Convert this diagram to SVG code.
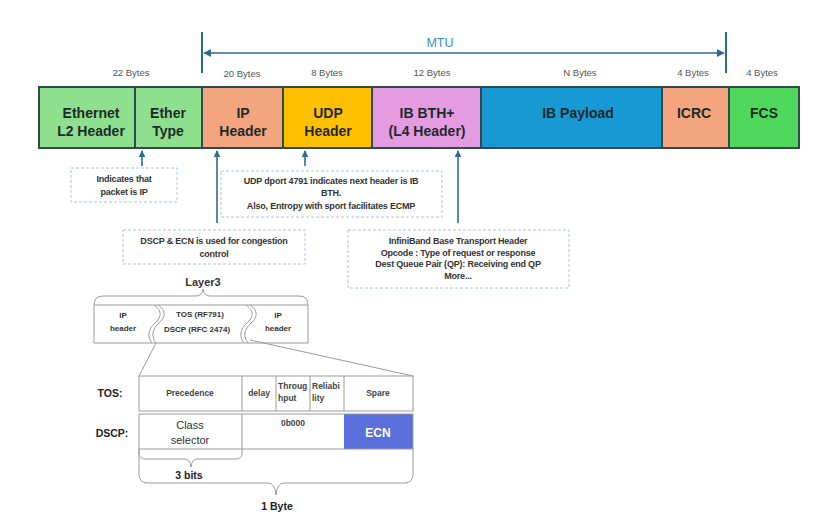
<svg xmlns="http://www.w3.org/2000/svg" width="830" height="527" viewBox="0 0 830 527">
<defs>
<marker id="ah" viewBox="0 0 10 10" refX="9" refY="5" markerWidth="7" markerHeight="7" markerUnits="userSpaceOnUse" orient="auto-start-reverse">
<path d="M0,0 L10,5 L0,10 z" fill="#2c6d8f"/>
</marker>
<marker id="ahm" viewBox="0 0 10 10" refX="9" refY="5" markerWidth="8" markerHeight="8" markerUnits="userSpaceOnUse" orient="auto-start-reverse">
<path d="M0,0 L10,5 L0,10 z" fill="#2c6d8f"/>
</marker>
</defs>
<style>
text{font-family:"Liberation Sans",Arial,sans-serif;}
.seg{stroke:#2f4a4a;stroke-width:2;}
.lbl{font-size:14px;font-weight:bold;fill:#1e2a2a;text-anchor:middle;}
.bytes{font-size:9.5px;fill:#555;text-anchor:middle;}
.note{fill:#fff;stroke:#a8c6e6;stroke-width:1;stroke-dasharray:3 2;}
.nt{font-size:9px;font-weight:bold;fill:#333;text-anchor:middle;letter-spacing:-0.2px;}
.conn{stroke:#2c6d8f;stroke-width:1.6;fill:none;}
.thin{stroke:#9a9a9a;stroke-width:1;fill:none;}
.cal{font-size:8px;font-weight:bold;fill:#333;text-anchor:middle;}
.tb{font-size:8.5px;font-weight:bold;fill:#444;text-anchor:middle;}
.tl{font-size:8.5px;font-weight:bold;fill:#444;}
.big{font-size:10.5px;font-weight:bold;fill:#222;text-anchor:middle;}
</style>
<rect width="830" height="527" fill="#ffffff"/>

<!-- MTU -->
<g id="mtu">
<line x1="202" y1="32" x2="202" y2="73" stroke="#2c6d8f" stroke-width="2"/>
<line x1="726" y1="32" x2="726" y2="73" stroke="#2c6d8f" stroke-width="2"/>
<line x1="204" y1="53" x2="724" y2="53" class="conn" marker-start="url(#ahm)" marker-end="url(#ahm)"/>
<text x="440" y="47" font-size="12.5" fill="#3b8cc4" text-anchor="middle">MTU</text>
</g>

<!-- byte labels -->
<g id="bytes">
<text class="bytes" x="131" y="76">22 Bytes</text>
<text class="bytes" x="242" y="77">20 Bytes</text>
<text class="bytes" x="327" y="76">8 Bytes</text>
<text class="bytes" x="432" y="76">12 Bytes</text>
<text class="bytes" x="580" y="76">N Bytes</text>
<text class="bytes" x="693" y="76">4 Bytes</text>
<text class="bytes" x="762" y="76">4 Bytes</text>
</g>

<!-- frame -->
<g id="ethernet"><rect class="seg" x="39" y="87" width="96" height="61" fill="#8ee08e"/><text class="lbl" x="91" y="118">Ethernet</text><text class="lbl" x="91" y="136">L2 Header</text></g>
<g id="ethertype"><rect class="seg" x="135" y="87" width="67" height="61" fill="#8ee08e"/><text class="lbl" x="168" y="118">Ether</text><text class="lbl" x="168" y="136">Type</text></g>
<g id="ip"><rect class="seg" x="202" y="87" width="81" height="61" fill="#f2a57f"/><text class="lbl" x="243" y="118">IP</text><text class="lbl" x="243" y="136">Header</text></g>
<g id="udp"><rect class="seg" x="283" y="87" width="89" height="61" fill="#ffc000"/><text class="lbl" x="328" y="118">UDP</text><text class="lbl" x="328" y="136">Header</text></g>
<g id="ibbth"><rect class="seg" x="372" y="87" width="109" height="61" fill="#e49be0"/><text class="lbl" x="427" y="118">IB BTH+</text><text class="lbl" x="427" y="136">(L4 Header)</text></g>
<g id="payload"><rect class="seg" x="481" y="87" width="181" height="61" fill="#1799d4"/><text class="lbl" x="578" y="118">IB Payload</text></g>
<g id="icrc"><rect class="seg" x="662" y="87" width="67" height="61" fill="#f2a57f"/><text class="lbl" x="694" y="118">ICRC</text></g>
<g id="fcs"><rect class="seg" x="729" y="87" width="70" height="61" fill="#4fd85c"/><text class="lbl" x="764" y="118">FCS</text></g>

<!-- connectors -->
<g id="connectors">
<line class="conn" x1="142" y1="166" x2="142" y2="151" marker-end="url(#ah)"/>
<line class="conn" x1="217" y1="223" x2="217" y2="151" marker-end="url(#ah)"/>
<line class="conn" x1="305" y1="166" x2="305" y2="151" marker-end="url(#ah)"/>
<line class="conn" x1="458" y1="223" x2="458" y2="151" marker-end="url(#ah)"/>
</g>

<!-- notes -->
<g id="note-ip"><rect class="note" x="71" y="168" width="106" height="34"/><text class="nt" x="124" y="182">Indicates that</text><text class="nt" x="124" y="195">packet is IP</text></g>
<g id="note-udp"><rect class="note" x="221" y="171" width="221" height="46"/><text class="nt" x="331" y="184">UDP dport 4791 indicates next header is IB</text><text class="nt" x="331" y="196">BTH.</text><text class="nt" x="331" y="209">Also, Entropy with sport facilitates ECMP</text></g>
<g id="note-dscp"><rect class="note" x="123" y="230" width="182" height="34"/><text class="nt" x="214" y="244">DSCP &amp; ECN is used for congestion</text><text class="nt" x="214" y="257">control</text></g>
<g id="note-ib"><rect class="note" x="348" y="230" width="221" height="58"/><text class="nt" x="458" y="244">InfiniBand Base Transport Header</text><text class="nt" x="458" y="256">Opcode : Type of request or response</text><text class="nt" x="458" y="267">Dest Queue Pair (QP): Receiving end QP</text><text class="nt" x="458" y="279">More...</text></g>

<!-- Layer3 -->
<g id="layer3">
<text x="203" y="286" font-size="11" font-weight="bold" fill="#333" text-anchor="middle">Layer3</text>
<path class="thin" d="M94,305 Q94,296 103,296 L196,296 Q202,296 203,289 Q204,296 210,296 L299,296 Q308,296 308,305"/>
<line class="thin" x1="94" y1="305" x2="308" y2="305"/>
<line class="thin" x1="94" y1="343" x2="308" y2="343"/>
<line class="thin" x1="94" y1="305" x2="94" y2="343"/>
<line class="thin" x1="308" y1="305" x2="308" y2="343"/>
<path class="thin" d="M158,305 C167,311 165,318 159,323 C152,329 151,337 156,343"/>
<path class="thin" d="M154,305 C163,311 161,318 155,323 C148,329 147,337 152,343"/>
<path class="thin" d="M246,305 C255,311 253,318 247,323 C240,329 239,337 244,343"/>
<path class="thin" d="M250,305 C259,311 257,318 251,323 C244,329 243,337 248,343"/>
<text class="cal" x="123" y="318">IP</text>
<text class="cal" x="123" y="331">header</text>
<text class="cal" x="200" y="317">TOS (RF791)</text>
<text class="cal" x="197" y="332">DSCP (RFC 2474)</text>
<text class="cal" x="278" y="318">IP</text>
<text class="cal" x="278" y="331">header</text>
<line class="thin" x1="156" y1="343" x2="139" y2="376"/>
<line class="thin" x1="250" y1="340" x2="413" y2="376"/>
</g>

<!-- TOS row -->
<g id="tos">
<text class="big" x="110" y="397">TOS:</text>
<rect class="thin" x="139" y="376" width="274" height="35"/>
<line class="thin" x1="242" y1="376" x2="242" y2="411"/>
<line class="thin" x1="276" y1="376" x2="276" y2="411"/>
<line class="thin" x1="310" y1="376" x2="310" y2="411"/>
<line class="thin" x1="344" y1="376" x2="344" y2="411"/>
<text class="tb" x="190" y="396">Precedence</text>
<text class="tb" x="259" y="396">delay</text>
<text class="tl" x="278" y="389">Throug</text>
<text class="tl" x="278" y="401">hput</text>
<text class="tl" x="312" y="389">Reliabi</text>
<text class="tl" x="312" y="401">lity</text>
<text class="tb" x="378" y="396">Spare</text>
</g>

<!-- DSCP row -->
<g id="dscp">
<text class="big" x="112" y="437">DSCP:</text>
<rect x="344" y="414" width="69" height="35" fill="#5a6fdc"/>
<rect class="thin" x="139" y="414" width="274" height="35"/>
<line class="thin" x1="242" y1="414" x2="242" y2="449"/>
<text x="190" y="429" font-size="11" fill="#333" text-anchor="middle">Class</text>
<text x="190" y="444" font-size="11" fill="#333" text-anchor="middle">selector</text>
<text class="tb" x="293" y="426">0b000</text>
<text x="378" y="437" font-size="12" font-weight="bold" fill="#ffffff" text-anchor="middle">ECN</text>
</g>

<!-- braces -->
<g id="brace-3bits">
<path class="thin" d="M139,449 L139,453 Q139,459 145,459 L185,459 Q190,459 191,467 Q192,459 197,459 L236,459 Q242,459 242,453 L242,449"/>
<text class="big" x="189" y="479">3 bits</text>
</g>
<g id="brace-1byte">
<path class="thin" d="M139,449 L139,474 Q139,483 148,483 L268,483 Q275,483 276,495 Q277,483 284,483 L404,483 Q413,483 413,474 L413,449"/>
<text class="big" x="277" y="510">1 Byte</text>
</g>
</svg>
